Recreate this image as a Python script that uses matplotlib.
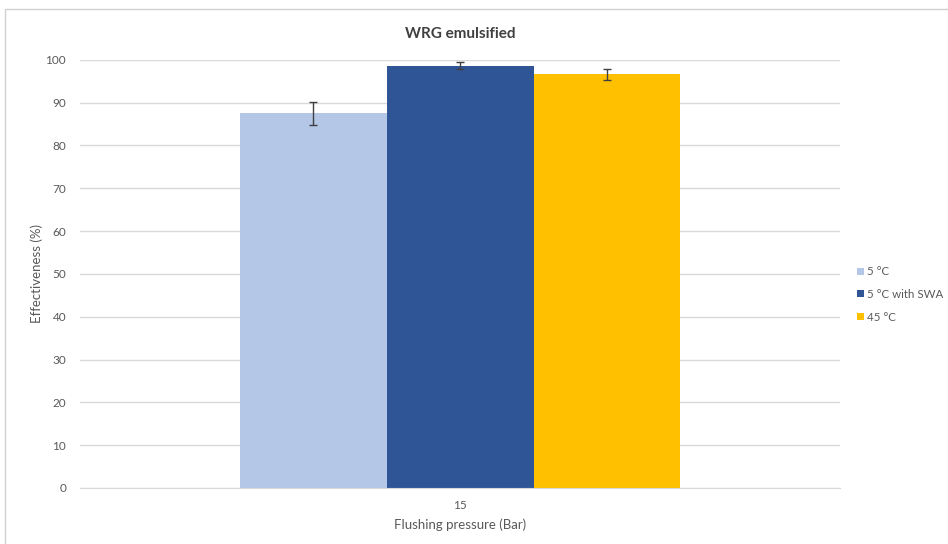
import numpy as np
import matplotlib.pyplot as plt
from matplotlib.patches import Rectangle

plt.rcParams['font.family'] = ['Lato', 'DejaVu Sans']

# data
categories = ['15']
series = ['5 °C', '5 °C with SWA', '45 °C']
values = [87.5, 98.6, 96.6]
errors = [2.7, 0.8, 1.3]
colors = ['#b4c7e7', '#2f5597', '#ffc000']

fig = plt.figure(figsize=(9.48, 5.44), dpi=100)
ax = fig.add_axes([0.0844, 0.103, 0.802, 0.787])

width = 0.193
x = np.arange(len(categories))
for i, (name, v, e, c) in enumerate(zip(series, values, errors, colors)):
    ax.bar(x + (i - 1) * width, [v], width, color=c, label=name, zorder=2)
    ax.errorbar(x + (i - 1) * width, [v], yerr=[e], fmt='none', ecolor='#404040',
                elinewidth=1, capsize=3, capthick=1, zorder=3)

ax.set_xlim(-0.5, 0.5)
ax.set_ylim(0, 100)
ax.set_yticks(range(0, 101, 10))
ax.set_xticks(x)
ax.set_xticklabels(categories)
ax.grid(axis='y', color='#d9d9d9', linewidth=1, zorder=0)
for s in ['top', 'right', 'left']:
    ax.spines[s].set_visible(False)
ax.spines['bottom'].set_color('#d9d9d9')
ax.tick_params(length=0, labelsize=8.5, colors='#595959', pad=10)
ax.tick_params(axis='x', pad=9)

ax.set_title('WRG emulsified', fontsize=11, fontweight='bold', color='#404040', pad=16)
ax.set_xlabel('Flushing pressure (Bar)', fontsize=9.5, color='#595959', labelpad=5)
ax.set_ylabel('Effectiveness (%)', fontsize=9.5, color='#595959', labelpad=2)

fig.legend(loc='upper left', bbox_to_anchor=(0.896, 0.525), frameon=False,
           fontsize=8.3, handlelength=0.55, handleheight=0.55, handletextpad=0.3,
           labelspacing=1.0, labelcolor='#595959', borderaxespad=0.3)

# chart border
fig.patches.append(Rectangle((5 / 948, -0.01), 1.0, 1 - 9 / 544 + 0.01,
                             transform=fig.transFigure, fill=False,
                             edgecolor='#d0d0d0', linewidth=1))

fig.savefig('out.png', dpi=100)
